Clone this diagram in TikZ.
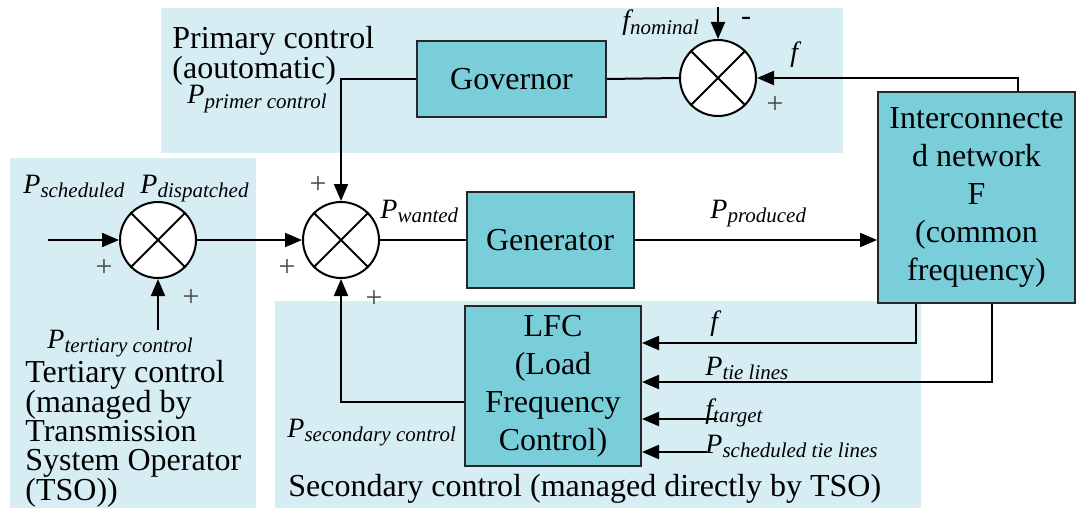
\documentclass[tikz,border=0pt]{standalone}
\usepackage{fontspec}
\setmainfont{Liberation Serif}
\newfontfamily\tms{Liberation Serif}
\usetikzlibrary{arrows.meta,calc}
\definecolor{bgblue}{RGB}{214,238,243}
\definecolor{boxblue}{RGB}{122,206,218}
\definecolor{signgray}{RGB}{70,70,70}
\newcommand{\Pv}[2]{{\tms\fontsize{14}{14}\selectfont\itshape #1}\raisebox{-0.45ex}{\tms\fontsize{10.5}{10.5}\selectfont\itshape #2}}
\begin{document}
\begin{tikzpicture}[x=0.5pt,y=-0.5pt,
  region/.style={fill=bgblue,draw=none},
  block/.style={draw=black!85,line width=1pt,fill=boxblue,align=center,inner sep=0pt,font=\tms\fontsize{16}{19}\selectfont},
  sumnode/.style={circle,draw,line width=1pt,fill=white,minimum size=38pt,inner sep=0pt},
  conn/.style={line width=1pt},
  arr/.style={conn,-{Triangle[length=8.5pt,width=7pt]}},
  lbl/.style={inner sep=0pt,anchor=base west,font=\tms},
  maintext/.style={inner sep=0pt,anchor=north west,align=left,font=\tms\fontsize{16}{14.7}\selectfont},
  sign/.style={inner sep=0pt,text=signgray,font=\tms\fontsize{15}{15}\selectfont}]
\useasboundingbox (0,0) rectangle (1080,508);
% background regions
\fill[region] (161,8) rectangle (843,153);
\fill[region] (10,158) rectangle (256,508);
\fill[region] (275,301) rectangle (921,508);
% blocks
\node[block,minimum width=94.5pt,minimum height=38pt] (gov) at (511.5,79) {Governor};
\node[block,minimum width=83.5pt,minimum height=48pt] (gen) at (550,240) {Generator};
\node[block,minimum width=98.5pt,minimum height=105.5pt] (net) at (976.5,197.5) {Interconnecte\\d network\\F\\(common\\frequency)};
\node[block,minimum width=88pt,minimum height=80pt] (lfc) at (553,386) {LFC\\(Load\\Frequency\\Control)};
% summing junctions
\node[sumnode] (s1) at (718,78) {};
\node[sumnode] (s2) at (341,240) {};
\node[sumnode] (s3) at (158,240) {};
\foreach \s in {s1,s2,s3}{
  \draw[conn] (\s.north west) -- (\s.south east);
  \draw[conn] (\s.north east) -- (\s.south west);
}
% helper coordinates
\coordinate (nomtop) at (718,7);
\coordinate (fbx) at (1018,0);
\coordinate (in3) at (48,240);
\coordinate (tert) at (158,330);
\coordinate (fx) at (916,0);
\coordinate (px) at (992,0);
\coordinate (l1) at (0,343);
\coordinate (l2) at (0,382);
\coordinate (tgt) at (717,419);
\coordinate (sch) at (707,452);
\coordinate (secy) at (0,402);
% connectors
\draw[arr] (nomtop) -- (s1);
\draw[arr] (net.north -| fbx) |- (s1.east);
\draw[conn] (s1.west) -- (gov.east);
\draw[arr] (gov.west) -| (s2.north);
\draw[arr] (in3) -- (s3.west);
\draw[arr] (s3.east) -- (s2.west);
\draw[conn] (s2.east) -- (gen.west);
\draw[arr] (gen.east) -- (gen.east -| net.west);
\draw[arr] (tert) -- (s3.south);
\draw[arr] (lfc.west |- secy) -| (s2.south);
\draw[arr] (net.south -| fx) |- (lfc.east |- l1);
\draw[arr] (net.south -| px) |- (lfc.east |- l2);
\draw[arr] (tgt) -- (lfc.east |- tgt);
\draw[arr] (sch) -- (lfc.east |- sch);
% region texts
\node[maintext] (tprim) at (172,26) {Primary control\\(aoutomatic)};
\node[maintext] (tter) at (25,360) {Tertiary control\\(managed by\\Transmission\\System Operator\\(TSO))};
\node[lbl,font=\tms\fontsize{16}{16}\selectfont] (tsec) at (288,496) {Secondary control (managed directly by TSO)};
% signal labels
\node[lbl] (lsched) at (23,193) {\Pv{P}{scheduled}};
\node[lbl] (ldisp) at (140,193) {\Pv{P}{dispatched}};
\node[lbl] (lwant) at (380,218) {\Pv{P}{wanted}};
\node[lbl] (lprim) at (187,104) {\Pv{P}{primer control}};
\node[lbl] (lnom) at (622,30) {\Pv{f}{nominal}};
\node[lbl] (lf1) at (790,62) {\Pv{f}{}};
\node[lbl] (lprod) at (710,218) {\Pv{P}{produced}};
\node[lbl] (ltert) at (47,348) {\Pv{P}{tertiary control}};
\node[lbl] (lsec) at (287,437) {\Pv{P}{secondary control}};
\node[lbl] (lf2) at (710,330) {\Pv{f}{}};
\node[lbl] (ltie) at (705,375) {\Pv{P}{tie lines}};
\node[lbl] (ltgt) at (705,418) {\Pv{f}{target}};
\node[lbl] (lstie) at (705,453) {\Pv{P}{scheduled tie lines}};
% signs
\node[sign] (p1) at (318,185) {+};
\node[sign] (p2) at (287,268) {+};
\node[sign] (p3) at (374,299) {+};
\node[sign] (p4) at (104,268) {+};
\node[sign] (p5) at (191,298) {+};
\node[sign] (p6) at (775,105) {+};
\node[sign,text=black,font=\tms\fontsize{15}{15}\selectfont] (m1) at (746,21) {-};
\end{tikzpicture}
\end{document}
